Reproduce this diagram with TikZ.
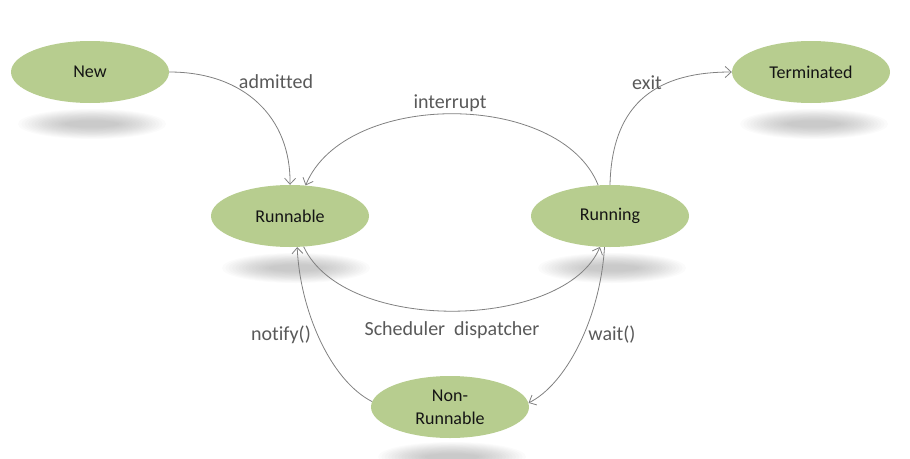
\documentclass[tikz,border=0pt]{standalone}
\usepackage{fontspec}
\setmainfont{Carlito}[Ligatures=NoCommon]
\usetikzlibrary{shapes.geometric,arrows.meta}
\definecolor{stategreen}{RGB}{183,205,143}
\definecolor{edgegray}{RGB}{128,128,128}
\definecolor{labelgray}{RGB}{89,89,89}
\definecolor{textdark}{RGB}{20,20,20}
\tikzset{
  state/.style={ellipse, fill=stategreen, minimum width=158pt, minimum height=62pt,
    inner sep=0pt, text=textdark, font=\fontsize{18}{23}\selectfont, align=center},
  edge/.style={draw=edgegray, line width=0.8pt,
    -{Straight Barb[length=6pt,width=11pt,line width=0.8pt]}},
  elabel/.style={text=labelgray, font=\fontsize{20}{24}\selectfont, inner sep=0pt}
}
\newcommand{\softshadow}[2]{%
  \foreach \k in {0,...,14}{%
    \fill[black, opacity=0.014] (#1,#2) ellipse ({74pt*(1-\k*0.045)} and {15pt*(1-\k*0.055)});
  }%
}
\begin{document}
\begin{tikzpicture}[x=1pt,y=-1pt]
\useasboundingbox (0,0) rectangle (910,458);
% shadows
\softshadow{92}{124}
\softshadow{814}{124}
\softshadow{296}{268}
\softshadow{612}{268}
\softshadow{452}{457}
% states
\node[state] (new) at (90,72) {New};
\node[state] (term) at (811,72) {Terminated};
\node[state] (runnable) at (290,216) {Runnable};
\node[state] (running) at (610,216) {Running};
\node[state] (nonrun) at (450,407) {Non-\\Runnable};
% edges
\draw[edge] (new.east) .. controls (245,72) and (291,118) .. (runnable.north);
\draw[edge] (running.111) .. controls (560,90) and (345,90) .. (runnable.63);
\draw[edge] (running.90) .. controls (612,100) and (660,72) .. (term.west);
\draw[edge] (runnable.-66) .. controls (345,335) and (565,330) .. (running.-108);
\draw[edge] (running.-100) .. controls (600,320) and (565,385) .. (nonrun.3);
\draw[edge] (nonrun.176) .. controls (330,380) and (300,310) .. (runnable.-77);
% labels
\node[elabel] (ladm) at (276,82) {admitted};
\node[elabel] (lint) at (450,103) {interrupt};
\node[elabel] (lexit) at (647,83) {exit};
\node[elabel] (lsched) at (452,330) {Scheduler\ \ dispatcher};
\node[elabel] (lnot) at (281,335) {notify()};
\node[elabel] (lwait) at (612,335) {wait()};
\end{tikzpicture}
\end{document}
